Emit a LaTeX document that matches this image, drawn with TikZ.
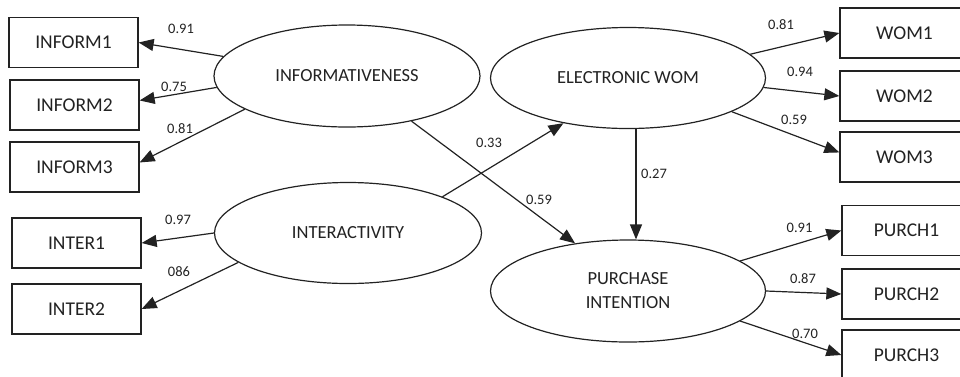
\documentclass[tikz,border=0pt]{standalone}
\usepackage{fontspec}
\setmainfont{Carlito}
\usetikzlibrary{arrows.meta,shapes.geometric,calc}
\definecolor{ink}{HTML}{222222}
\tikzset{
  box/.style={draw=ink,line width=1.3pt,minimum width=129pt,minimum height=50pt,inner sep=0pt,font=\fontsize{19.5}{22}\selectfont,text=ink},
  lat/.style={ellipse,draw=ink,line width=1.2pt,inner sep=0pt,align=center,font=\fontsize{18.5}{24}\selectfont,text=ink},
  ar/.style={-{Triangle[length=15pt,width=12pt]},line width=1.2pt,draw=ink},
  wt/.style={font=\fontsize{14.5}{16}\selectfont,text=ink,inner sep=0pt},
}
\begin{document}
\begin{tikzpicture}[x=1pt,y=-1pt]
\useasboundingbox (0,0) rectangle (960,376);
% latent constructs
\node[lat,minimum width=266pt,minimum height=102pt] (info) at (347,76) {INFORMATIVENESS};
\node[lat,minimum width=267pt,minimum height=101pt] (inter) at (348,233) {INTERACTIVITY};
\node[lat,minimum width=275pt,minimum height=101pt] (ewom) at (628,78) {ELECTRONIC WOM};
\node[lat,minimum width=275pt,minimum height=102pt] (purch) at (628,291) {PURCHASE\\INTENTION};
% indicators
\node[box] (i1) at (73.5,42.5) {INFORM1};
\node[box] (i2) at (74.5,105) {INFORM2};
\node[box] (i3) at (74.5,167) {INFORM3};
\node[box] (t1) at (76.5,243) {INTER1};
\node[box] (t2) at (76.5,309) {INTER2};
\node[box] (w1) at (904.5,33) {WOM1};
\node[box] (w2) at (904.5,96) {WOM2};
\node[box] (w3) at (904.5,157) {WOM3};
\node[box] (p1) at (906.5,230.5) {PURCH1};
\node[box] (p2) at (906.5,294) {PURCH2};
\node[box] (p3) at (906.5,355) {PURCH3};
% paths
\draw[ar] (info.171)--(i1.east); \draw[ar] (info.185)--(i2.4); \draw[ar] (info.198)--(i3.4);
\draw[ar] (inter.180)--(t1.east); \draw[ar] (inter.195)--(t2.east);
\draw[ar] (ewom.11)--(w1.west); \draw[ar] (ewom.-4)--(w2.west); \draw[ar] (ewom.-18)--(w3.176);
\draw[ar] (purch.15)--(p1.west); \draw[ar] (purch.0)--(p2.west); \draw[ar] (purch.-15)--(p3.west);
\draw[ar] (inter.21)--(ewom.215);
\draw[ar] (info.325)--(purch.138);
\draw[ar] ($(ewom.south)+(8,0)$)--($(purch.north)+(8,0)$);
% weights
\node[wt] (l1) at (181,29) {0.91};
\node[wt] (l2) at (174,87) {0.75};
\node[wt] (l3) at (180,129) {0.81};
\node[wt] (l4) at (178,220) {0.97};
\node[wt] (l5) at (179,272) {086};
\node[wt] (l6) at (489,143) {0.33};
\node[wt] (l7) at (539,200) {0.59};
\node[wt] (l8) at (654,174) {0.27};
\node[wt] (l9) at (781,25) {0.81};
\node[wt] (l10) at (800,72) {0.94};
\node[wt] (l11) at (794,120) {0.59};
\node[wt] (l12) at (799.5,228) {0.91};
\node[wt] (l13) at (803,279) {0.87};
\node[wt] (l14) at (805,334) {0.70};
\end{tikzpicture}
\end{document}
